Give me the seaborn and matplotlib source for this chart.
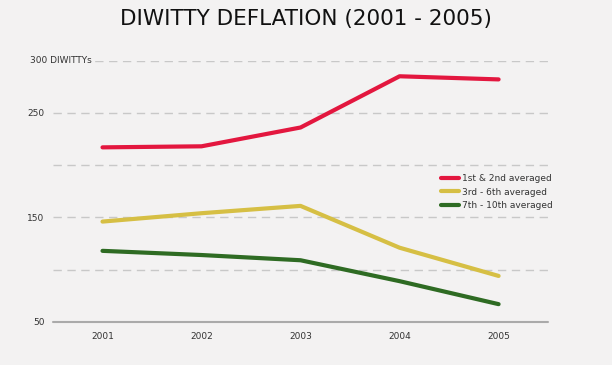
import matplotlib
matplotlib.use("Agg")
import matplotlib.pyplot as plt
import seaborn as sns
import pandas as pd

years = ["2001", "2002", "2003", "2004", "2005"]
series = ["1st & 2nd averaged", "3rd - 6th averaged", "7th - 10th averaged"]
top_two = [217, 218, 236, 285, 282]
third_sixth = [146, 154, 161, 121, 94]
seventh_tenth = [118, 114, 109, 89, 67]
colors = ["#e3173f", "#d6bf44", "#2e6b23"]

df = pd.DataFrame({
    "year": years * 3,
    "value": top_two + third_sixth + seventh_tenth,
    "series": [s for s in series for _ in years],
})

bg = "#f3f2f2"
sns.set_style("white")
plt.rcParams["font.family"] = ["Verdana", "DejaVu Sans"]

fig = plt.figure(figsize=(6.12, 3.65), dpi=100, facecolor=bg)
ax = fig.add_axes([0.0866, 0.118, 0.809, 0.716])
ax.set_facecolor(bg)

sns.lineplot(data=df, x="year", y="value", hue="series", palette=colors,
             linewidth=3, ax=ax, sort=False)

ax.set_xlim(-0.5, 4.5)
ax.set_ylim(50, 300)
for y in [100, 150, 200, 250, 300]:
    ax.axhline(y, color="#c8c8c8", lw=1, ls=(0, (6, 4)), zorder=0)
ax.axhline(50, color="#aaaaaa", lw=1.5, zorder=0, clip_on=False)

for s in ax.spines.values():
    s.set_visible(False)
ax.set_yticks([50, 150, 250, 300])
ax.set_yticklabels(["50", "150", "250", ""])
ax.tick_params(axis="both", length=0, labelsize=6.5, colors="#333333")
ax.tick_params(axis="y", pad=6)
ax.tick_params(axis="x", pad=7)
ax.text(-0.047, 300, "300 DIWITTYs", transform=ax.get_yaxis_transform(),
        fontsize=6.5, color="#333333", va="center", ha="left",
        bbox=dict(facecolor=bg, edgecolor="none", pad=1.5), clip_on=False)
ax.set_xlabel("")
ax.set_ylabel("")

leg = ax.legend(loc="upper left", bbox_to_anchor=(0.774, 0.583), frameon=False,
                fontsize=6.5, handlelength=2.0, handletextpad=0.4,
                labelspacing=0.5, borderpad=0)
for h in leg.get_lines():
    h.set_linewidth(3)
for t in leg.get_texts():
    t.set_color("#333333")

fig.suptitle("DIWITTY DEFLATION (2001 - 2005)", fontsize=15.5, y=0.975, color="#111111")

fig.savefig("out.png", dpi=100, facecolor=bg)
